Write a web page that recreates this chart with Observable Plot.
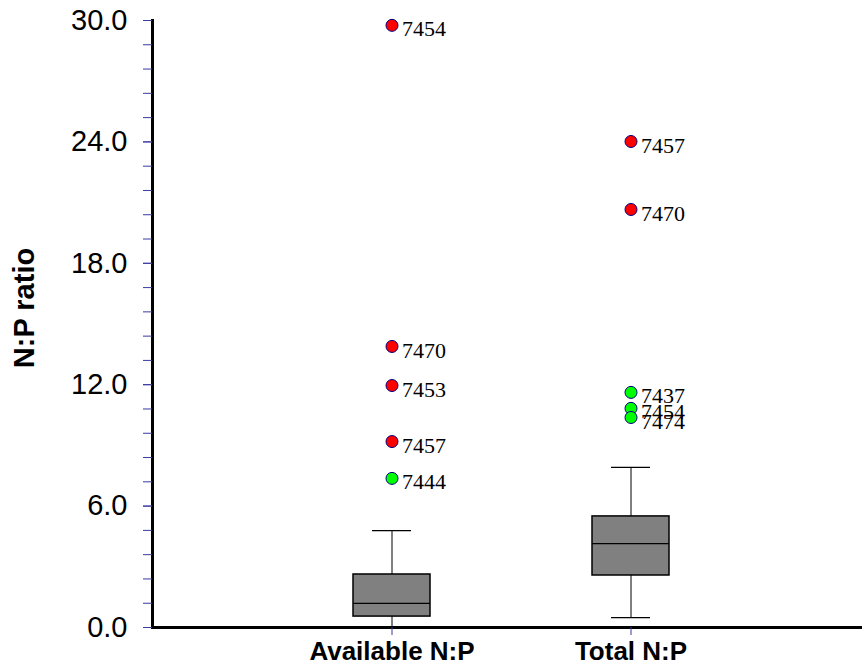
<!DOCTYPE html>
<html>
<head>
<meta charset="utf-8">
<script src="https://cdn.jsdelivr.net/npm/d3@7"></script>
<script src="https://cdn.jsdelivr.net/npm/@observablehq/plot@0.6"></script>
<style>
  html, body { margin: 0; padding: 0; background: white; }
</style>
</head>
<body>
<div id="chart"></div>
<script>
// Box summaries
const categories = ["Available N:P", "Total N:P"];
const lowerWhisker = [0.0, 0.49];
const q1 = [0.54, 2.57];
const median = [1.19, 4.15];
const q3 = [2.62, 5.49];
const upperWhisker = [4.79, 7.91];

// Outliers
const outlierGroup = ["Available N:P", "Available N:P", "Available N:P", "Available N:P", "Available N:P",
                      "Total N:P", "Total N:P", "Total N:P", "Total N:P", "Total N:P"];
const outlierValue = [29.76, 13.89, 11.96, 9.19, 7.37, 24.02, 20.66, 11.62, 10.83, 10.38];
const outlierId = ["7454", "7470", "7453", "7457", "7444", "7457", "7470", "7437", "7454", "7474"];
const outlierColor = ["#ff0000", "#ff0000", "#ff0000", "#ff0000", "#00ff00",
                      "#ff0000", "#ff0000", "#00ff00", "#00ff00", "#00ff00"];

// Axis ticks and title
const yMajorTicks = [0, 6, 12, 18, 24, 30];
const yMinorStep = 1.2;
const yTitle = ["N:P ratio"];

const boxes = categories.map((c, i) => ({
  cat: c, lo: lowerWhisker[i], q1: q1[i], med: median[i], q3: q3[i], hi: upperWhisker[i]
}));
const outliers = outlierValue.map((v, i) => ({
  group: outlierGroup[i], value: v, id: outlierId[i], color: outlierColor[i]
}));
const yMinorTicks = d3.range(0, 30 + 1e-9, yMinorStep);

const tickColor = "#3a3aa0";

const plot = Plot.plot({
  width: 862,
  height: 665,
  marginTop: 20,
  marginBottom: 38,
  marginLeft: 152,
  marginRight: 0,
  style: { fontFamily: "'Liberation Sans', Arial, sans-serif", background: "white", color: "black" },
  x: { type: "band", domain: categories, paddingInner: 0.678, paddingOuter: 0.824, align: 0.509, label: null },
  y: { domain: [0, 30], label: null },
  color: { type: "identity" },
  marks: [
    // whiskers
    Plot.ruleX(boxes, { x: "cat", y1: "lo", y2: "hi", stroke: "black", strokeWidth: 1 }),
    Plot.tickY(boxes, { x: "cat", y: "lo", stroke: "black", strokeWidth: 1.2, insetLeft: 19, insetRight: 19 }),
    Plot.tickY(boxes, { x: "cat", y: "hi", stroke: "black", strokeWidth: 1.2, insetLeft: 19, insetRight: 19 }),
    // boxes
    Plot.barY(boxes, { x: "cat", y1: "q1", y2: "q3", fill: "#808080", stroke: "black", strokeWidth: 1.5 }),
    Plot.tickY(boxes, { x: "cat", y: "med", stroke: "black", strokeWidth: 1.2 }),
    // axes lines
    Plot.ruleY([0], { stroke: "black", strokeWidth: 3 }),
    Plot.frame({ anchor: "left", stroke: "black", strokeWidth: 3 }),
    // y axis minor ticks
    Plot.axisY(yMinorTicks, {
      tickSize: 9, tickFormat: () => "", stroke: tickColor, strokeWidth: 1, label: null
    }),
    // y axis major labels
    Plot.axisY(yMajorTicks, {
      tickSize: 9, tickPadding: 16, tickFormat: d => d.toFixed(1), stroke: tickColor,
      fontSize: 29, fill: "black", label: null
    }),
    // y axis title
    Plot.text(yTitle, {
      text: d => d, frameAnchor: "left", rotate: -90, dx: -128, dy: -16,
      fontSize: 29, fontWeight: "bold", fill: "black", textAnchor: "middle"
    }),
    // x axis
    Plot.axisX({
      tickSize: 8, tickPadding: 6, stroke: tickColor, fontSize: 26, fontWeight: "bold", fill: "black", label: null
    }),
    // outliers
    Plot.dot(outliers, { x: "group", y: "value", r: 6, fill: "color", stroke: "#000080", strokeWidth: 1 }),
    Plot.text(outliers, {
      x: "group", y: "value", text: "id", dx: 10, dy: 4, textAnchor: "start",
      fontFamily: "'Liberation Serif', 'Times New Roman', serif", fontSize: 22, fill: "black"
    })
  ]
});

document.getElementById("chart").appendChild(plot);
</script>
</body>
</html>
